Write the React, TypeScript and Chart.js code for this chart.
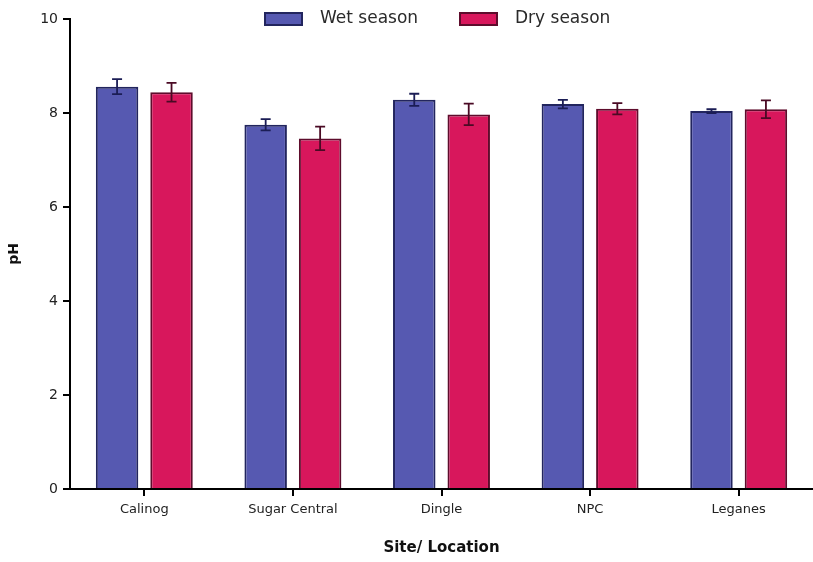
import React, { useEffect, useRef } from "react";
import { Chart, registerables } from "chart.js";

Chart.register(...registerables);

const categories = ["Calinog", "Sugar Central", "Dingle", "NPC", "Leganes"];
const wetValues = [8.56, 7.75, 8.28, 8.19, 8.04];
const wetErrors = [0.16, 0.12, 0.13, 0.09, 0.04];
const dryValues = [8.44, 7.46, 7.97, 8.09, 8.08];
const dryErrors = [0.2, 0.25, 0.23, 0.12, 0.19];
const seriesLabels = ["Wet season", "Dry season"];
const yTicks = [0, 2, 4, 6, 8, 10];

const FONT = "'DejaVu Sans', Arial, sans-serif";

const errorBarPlugin = {
  id: "errorBars",
  afterDatasetsDraw(chart: any) {
    const ctx = chart.ctx;
    const yScale = chart.scales.y;
    const errs = [wetErrors, dryErrors];
    const colors = ["#1b1d55", "#4a0a24"];
    chart.data.datasets.forEach((ds: any, i: number) => {
      const meta = chart.getDatasetMeta(i);
      meta.data.forEach((el: any, j: number) => {
        const v = ds.data[j];
        const e = errs[i][j];
        const yt = yScale.getPixelForValue(v + e);
        const yb = yScale.getPixelForValue(v - e);
        const x = el.x;
        const cap = 5;
        ctx.save();
        ctx.strokeStyle = colors[i];
        ctx.lineWidth = 1.8;
        ctx.beginPath();
        ctx.moveTo(x, yt);
        ctx.lineTo(x, yb);
        ctx.moveTo(x - cap, yt);
        ctx.lineTo(x + cap, yt);
        ctx.moveTo(x - cap, yb);
        ctx.lineTo(x + cap, yb);
        ctx.stroke();
        ctx.restore();
      });
    });
  },
};

const legendPlugin = {
  id: "customLegend",
  afterDraw(chart: any) {
    const ctx = chart.ctx;
    const boxX = [265, 460];
    const textX = [320, 515];
    chart.data.datasets.forEach((ds: any, i: number) => {
      ctx.save();
      ctx.fillStyle = ds.backgroundColor;
      ctx.strokeStyle = ds.borderColor;
      ctx.lineWidth = 2;
      ctx.fillRect(boxX[i], 13, 37, 12);
      ctx.strokeRect(boxX[i], 13, 37, 12);
      ctx.fillStyle = "#2a2a2a";
      ctx.font = `17px ${FONT}`;
      ctx.textBaseline = "middle";
      ctx.textAlign = "left";
      ctx.fillText(ds.label, textX[i], 19);
      ctx.restore();
    });
  },
};

export default function App() {
  const ref = useRef<HTMLCanvasElement | null>(null);

  useEffect(() => {
    if (!ref.current) return;
    const chart = new Chart(ref.current, {
      type: "bar",
      data: {
        labels: categories,
        datasets: [
          {
            label: seriesLabels[0],
            data: wetValues,
            backgroundColor: "#5659b1",
            borderColor: "#22255e",
            borderWidth: 2,
            categoryPercentage: 0.733,
            barPercentage: 0.78,
          },
          {
            label: seriesLabels[1],
            data: dryValues,
            backgroundColor: "#d8175c",
            borderColor: "#5e0c2c",
            borderWidth: 2,
            categoryPercentage: 0.733,
            barPercentage: 0.78,
          },
        ],
      },
      options: {
        responsive: false,
        animation: false,
        layout: { padding: { top: 19, left: 0, right: 0, bottom: 0 } },
        plugins: {
          legend: { display: false },
          tooltip: { enabled: false },
        },
        scales: {
          x: {
            offset: true,
            grid: {
              offset: false,
              drawOnChartArea: false,
              drawTicks: true,
              tickLength: 7,
              color: "#000",
              lineWidth: 2,
            },
            border: { display: true, color: "#000", width: 2 },
            ticks: {
              color: "#222",
              font: { family: FONT, size: 13 },
              padding: 6,
              maxRotation: 0,
              autoSkip: false,
            },
            title: {
              display: true,
              text: "Site/ Location",
              color: "#111",
              font: { family: FONT, size: 15, weight: "bold" },
              padding: { top: 0, bottom: 5 },
            },
            afterFit(scale: any) {
              scale.height = 73;
            },
          },
          y: {
            min: 0,
            max: 10,
            afterBuildTicks(scale: any) {
              scale.ticks = yTicks.map((v) => ({ value: v }));
            },
            grid: {
              drawOnChartArea: false,
              drawTicks: true,
              tickLength: 7,
              color: "#000",
              lineWidth: 2,
            },
            border: { display: true, color: "#000", width: 2 },
            ticks: {
              color: "#222",
              font: { family: FONT, size: 14 },
              padding: 5,
            },
            title: {
              display: true,
              text: "pH",
              color: "#111",
              font: { family: FONT, size: 14, weight: "bold" },
              padding: { top: 6, bottom: 0 },
            },
            afterFit(scale: any) {
              scale.width = 70;
            },
          },
        },
      },
      plugins: [errorBarPlugin, legendPlugin],
    } as any);
    return () => chart.destroy();
  }, []);

  return (
    <div style={{ position: "absolute", left: 0, top: 0, width: 813, height: 562, background: "#fff" }}>
      <canvas ref={ref} width={813} height={562} />
    </div>
  );
}
